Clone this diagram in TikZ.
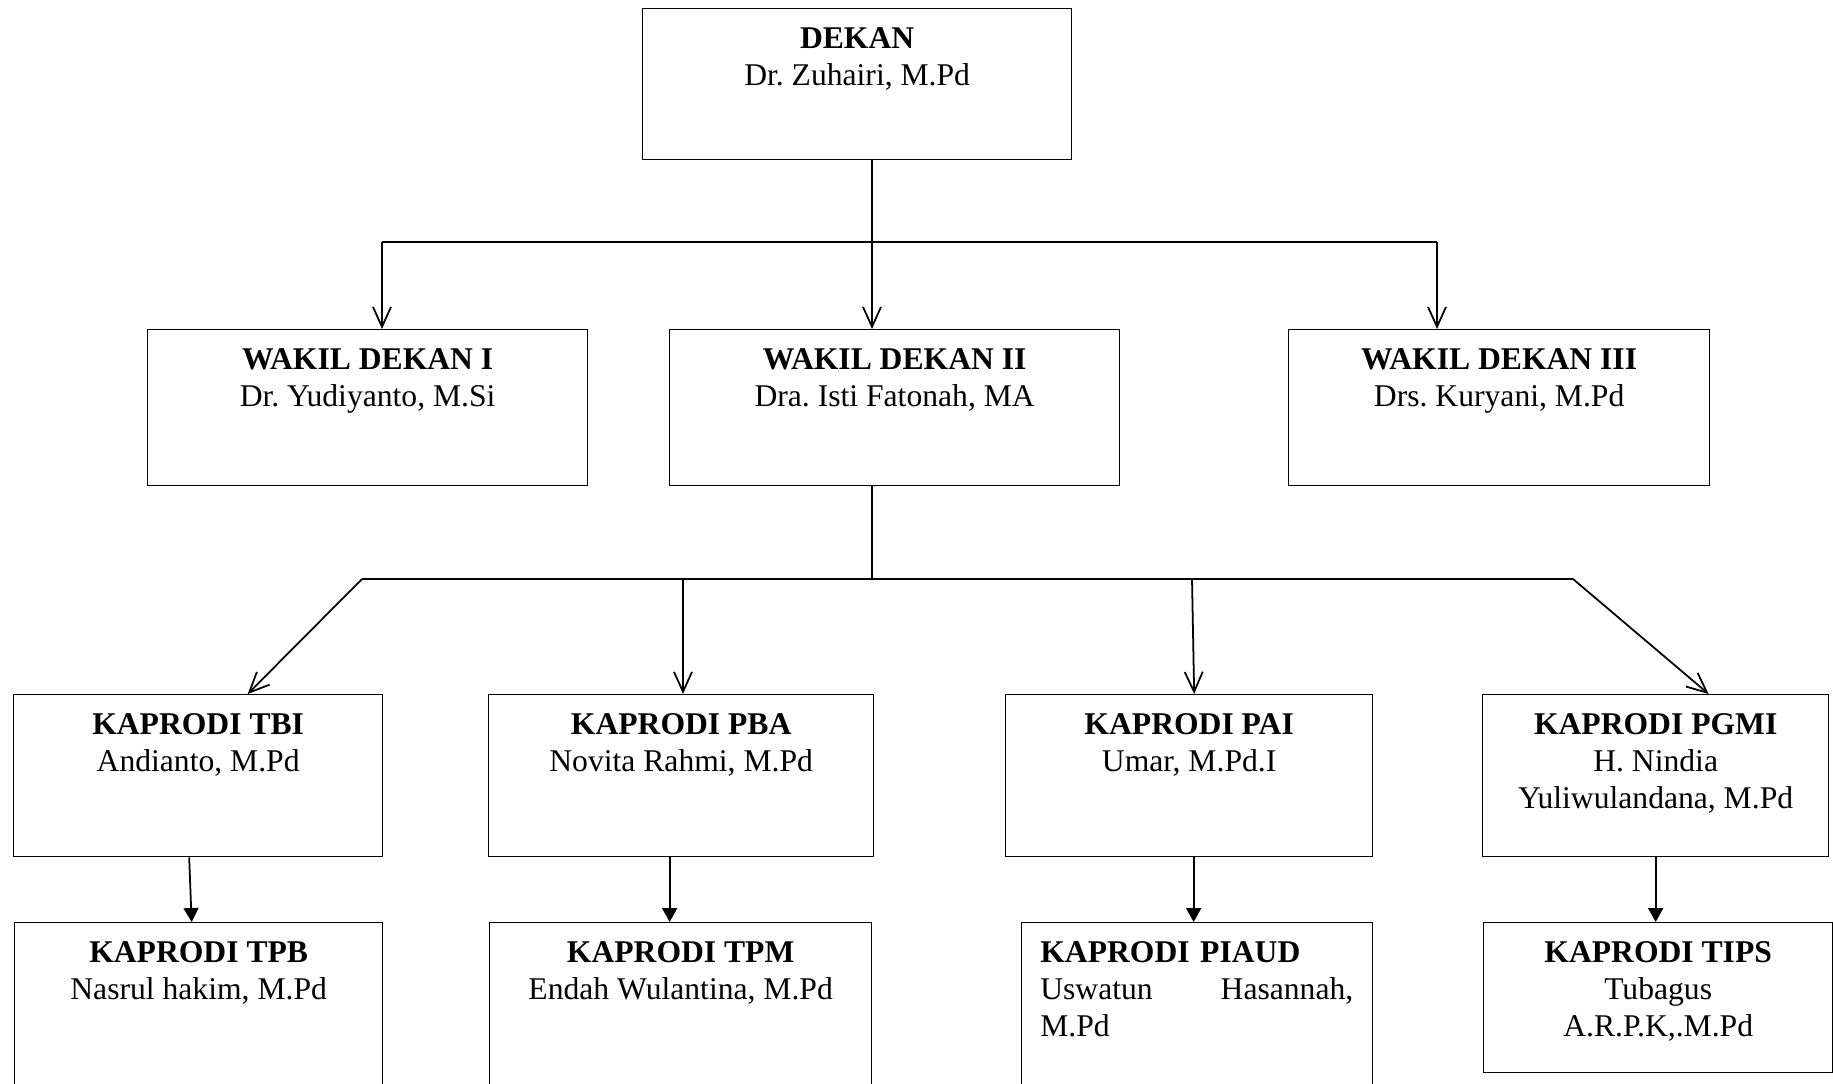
\documentclass[tikz,border=0pt]{standalone}
\usepackage{fontspec}
\setmainfont{Liberation Serif}
\frenchspacing
\usetikzlibrary{positioning,arrows.meta}

\tikzset{
  box/.style={draw, line width=0.8pt, inner sep=0pt, anchor=north west, minimum height=#1},
  box/.default=3.12cm,
  txt/.style={inner sep=0pt, align=center, font=\fontsize{18}{21}\selectfont},
  open/.style={line width=1pt, -{Straight Barb[length=0.4cm,width=0.36cm]}},
  solid/.style={line width=1pt, -{Triangle[length=0.28cm,width=0.3cm]}},
  bus/.style={line width=1pt}
}

\begin{document}
\begin{tikzpicture}[x=0.02cm, y=-0.02cm]
            \useasboundingbox (0,0) rectangle (1833,1083);

            % dekan
            \node[box=3.02cm, minimum width=8.58cm] (dekan) at (642,8) {};
            \node[txt, below=0.38cm of dekan.north] (dekant) {\textbf{DEKAN}\\Dr. Zuhairi, M.Pd};

            % wakil dekan
            \node[box, minimum width=8.8cm] (wd1) at (147,329) {};
            \node[box, minimum width=9.0cm] (wd2) at (669,329) {};
            \node[box, minimum width=8.42cm] (wd3) at (1288,329) {};
            \node[txt, below=0.38cm of wd1.north] (wd1t) {\textbf{WAKIL DEKAN I}\\Dr. Yudiyanto, M.Si};
            \node[txt, below=0.38cm of wd2.north] (wd2t) {\textbf{WAKIL DEKAN II}\\Dra. Isti Fatonah, MA};
            \node[txt, below=0.38cm of wd3.north] (wd3t) {\textbf{WAKIL DEKAN III}\\Drs. Kuryani, M.Pd};

            % kaprodi
            \node[box=3.24cm, minimum width=7.38cm] (tbi) at (13,694) {};
            \node[box=3.24cm, minimum width=7.7cm] (pba) at (488,694) {};
            \node[box=3.24cm, minimum width=7.34cm] (pai) at (1005,694) {};
            \node[box=3.24cm, minimum width=6.92cm] (pgmi) at (1482,694) {};
            \node[txt, below=0.38cm of tbi.north] (tbit) {\textbf{KAPRODI TBI}\\Andianto, M.Pd};
            \node[txt, below=0.38cm of pba.north] (pbat) {\textbf{KAPRODI PBA}\\Novita Rahmi, M.Pd};
            \node[txt, below=0.38cm of pai.north] (pait) {\textbf{KAPRODI PAI}\\Umar, M.Pd.I};
            \node[txt, below=0.38cm of pgmi.north] (pgmit) {\textbf{KAPRODI PGMI}\\H. Nindia\\Yuliwulandana, M.Pd};

            \node[box=3.4cm, minimum width=7.36cm] (tpb) at (14,922) {};
            \node[box=3.4cm, minimum width=7.64cm] (tpm) at (489,922) {};
            \node[box=3.4cm, minimum width=7.02cm] (piaud) at (1021,922) {};
            \node[box=3.0cm, minimum width=6.98cm] (tips) at (1483,922) {};
            \node[txt, below=0.38cm of tpb.north] (tpbt) {\textbf{KAPRODI TPB}\\Nasrul hakim, M.Pd};
            \node[txt, below=0.38cm of tpm.north] (tpmt) {\textbf{KAPRODI TPM}\\Endah Wulantina, M.Pd};
            \node[txt, align=left, text width=6.26cm, anchor=north west] (piaudt) at ([xshift=0.38cm,yshift=-0.38cm]piaud.north west)
                {\textbf{KAPRODI PIAUD}\\Uswatun \hfill Hasannah,\\M.Pd};
            \node[txt, below=0.38cm of tips.north] (tipst) {\textbf{KAPRODI TIPS}\\Tubagus\\A.R.P.K,.M.Pd};

            % dekan to wakil dekan
            \coordinate (busal) at (382,242);
            \coordinate (busam) at (872,242);
            \coordinate (busar) at (1437,242);
            \draw[bus] (busam |- dekan.south) -- (busam);
            \draw[bus] (busal) -- (busar);
            \draw[open] (busal) -- (busal |- wd1.north);
            \draw[open] (busam) -- (busam |- wd2.north);
            \draw[open] (busar) -- (busar |- wd3.north);

            % wakil dekan II to kaprodi
            \coordinate (busbl) at (362,579);
            \coordinate (busbm) at (872,579);
            \coordinate (busbr) at (1573,579);
            \coordinate (busbp) at (683,579);
            \coordinate (busbq) at (1192,579);
            \draw[bus] (busbm |- wd2.south) -- (busbm);
            \draw[bus] (busbl) -- (busbr);
            \draw[open] (busbl) -- ([xshift=0.99cm]tbi.north);
            \draw[open] (busbp) -- (busbp |- pba.north);
            \draw[open] (busbq) -- ([xshift=0.1cm]pai.north);
            \draw[open] (busbr) -- ([xshift=1.06cm]pgmi.north);

            % kaprodi to kaprodi
            \draw[solid] ([xshift=-0.18cm]tbi.south) -- ([xshift=-0.14cm]tpb.north);
            \draw[solid] ([xshift=-0.23cm]pba.south) -- ([xshift=-0.22cm]tpm.north);
            \draw[solid] ([xshift=0.09cm]pai.south) -- ([xshift=0.09cm]piaud.north -| pai.south);
            \draw[solid] (pgmi.south) -- (pgmi.south |- tips.north);
\end{tikzpicture}
\end{document}
